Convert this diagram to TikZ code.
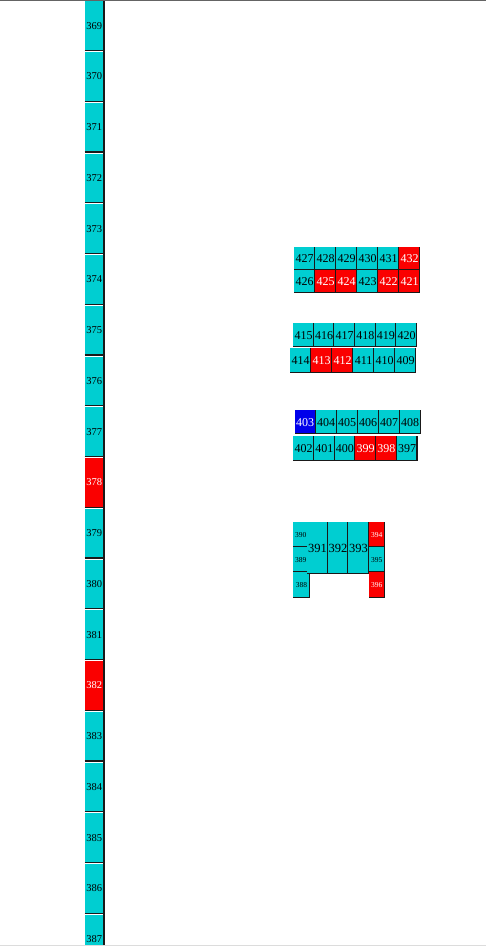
\documentclass[tikz,border=0pt]{standalone}
\usepackage{fontspec}
\setmainfont{Liberation Serif}
\definecolor{cyanc}{RGB}{0,206,209}
\definecolor{redc}{RGB}{250,0,0}
\definecolor{bluec}{RGB}{0,0,235}
\definecolor{topgray}{RGB}{100,100,100}
\definecolor{botgray}{RGB}{220,220,220}
\tikzset{
  cellbase/.style={fill=cyanc, text=black, inner sep=0pt, anchor=north west,
    font=\fontsize{12}{12}\selectfont},
  hot/.style={fill=redc, text=white},
  sel/.style={fill=bluec, text=white},
  tiny/.style={font=\fontsize{7.5}{7.5}\selectfont},
  big/.style={font=\fontsize{12.5}{12.5}\selectfont},
  colcell/.style={fill=cyanc, text=black, inner sep=0pt, anchor=north west,
    font=\fontsize{10.5}{10.5}\selectfont, minimum width=19pt, minimum height=50.75pt},
  shadowline/.style={line width=1.3pt, black!90},
  sepline/.style={line width=1.3pt, black!90},
  hiline/.style={line width=0.9pt, white}
}
\newcommand\mkcell[6]{%
  \node[cellbase,#6,minimum width=#4pt,minimum height=#5pt] (c#1) at (#2,#3) {#1};
  \draw[shadowline] ([xshift=-0.65pt]c#1.north east) -- ([xshift=-0.65pt,yshift=0.65pt]c#1.south east) -- ([yshift=0.65pt]c#1.south west);
}
\begin{document}
\begin{tikzpicture}[x=1pt,y=-1pt]
\useasboundingbox (0,0) rectangle (486,948);
\fill[white] (0,0) rectangle (486,948);
% left column
\begin{scope}
\clip (0,0) rectangle (486,945);
\foreach \k in {0,...,18}{
  \pgfmathtruncatemacro{\lab}{369+\k}
  \pgfmathsetmacro{\yy}{\k*50.75}
  \ifnum\lab=378 \def\st{hot}\else\ifnum\lab=382 \def\st{hot}\else\def\st{}\fi\fi
  \node[colcell,\st] (c\lab) at (84.5,\yy) {\lab};
}
\foreach \k in {369,...,386}{
  \draw[sepline] ([yshift=0.65pt]c\k.south west) -- ([yshift=0.65pt]c\k.south east);
  \draw[hiline] ([yshift=-0.45pt]c\k.south west) -- ([yshift=-0.45pt]c\k.south east);
}
\coordinate (coltop) at (104,0);
\coordinate (colbot) at (104,945);
\draw[line width=1.8pt, black!90] (coltop) -- (colbot);
\end{scope}
\coordinate (tl) at (0,0.6);
\coordinate (tr) at (486,0.6);
\draw[line width=1.3pt, topgray] (tl) -- (tr);
\coordinate (bl) at (0,945.5);
\coordinate (br) at (486,945.5);
\draw[line width=1pt, botgray] (bl) -- (br);
% block 1
\mkcell{427}{294}{247}{21}{23}{}
\mkcell{428}{315}{247}{21}{23}{}
\mkcell{429}{336}{247}{21}{23}{}
\mkcell{430}{357}{247}{21}{23}{}
\mkcell{431}{378}{247}{21}{23}{}
\mkcell{432}{399}{247}{21}{23}{hot}
\mkcell{426}{294}{270}{21}{23}{}
\mkcell{425}{315}{270}{21}{23}{hot}
\mkcell{424}{336}{270}{21}{23}{hot}
\mkcell{423}{357}{270}{21}{23}{}
\mkcell{422}{378}{270}{21}{23}{hot}
\mkcell{421}{399}{270}{21}{23}{hot}
% block 2
\mkcell{415}{293}{323}{20.6}{24}{}
\mkcell{416}{313.6}{323}{20.6}{24}{}
\mkcell{417}{334.2}{323}{20.6}{24}{}
\mkcell{418}{354.8}{323}{20.6}{24}{}
\mkcell{419}{375.4}{323}{20.6}{24}{}
\mkcell{420}{396}{323}{20.6}{24}{}
\mkcell{414}{290}{348}{21}{25}{}
\mkcell{413}{311}{348}{21}{25}{hot}
\mkcell{412}{332}{348}{21}{25}{hot}
\mkcell{411}{353}{348}{21}{25}{}
\mkcell{410}{374}{348}{21}{25}{}
\mkcell{409}{395}{348}{21}{25}{}
% block 3
\mkcell{403}{294.5}{410}{21}{24}{sel}
\mkcell{404}{315.5}{410}{21}{24}{}
\mkcell{405}{336.5}{410}{21}{24}{}
\mkcell{406}{357.5}{410}{21}{24}{}
\mkcell{407}{378.5}{410}{21}{24}{}
\mkcell{408}{399.5}{410}{21}{24}{}
\mkcell{402}{293}{436}{20.7}{24.5}{}
\mkcell{401}{313.7}{436}{20.7}{24.5}{}
\mkcell{400}{334.4}{436}{20.7}{24.5}{}
\mkcell{399}{355.1}{436}{20.7}{24.5}{hot}
\mkcell{398}{375.8}{436}{20.7}{24.5}{hot}
\mkcell{397}{396.5}{436}{20.7}{24.5}{}
% block 4
\mkcell{390}{293}{522}{15}{25}{tiny}
\mkcell{389}{293}{547}{15}{25}{tiny}
\mkcell{388}{293}{572}{16.5}{26}{tiny}
\mkcell{391}{307}{522}{20.5}{51.5}{big}
\mkcell{392}{327.5}{522}{20.5}{51.5}{big}
\mkcell{393}{348}{522}{20.5}{51.5}{big}
\mkcell{394}{368.5}{522}{16}{25}{tiny,hot}
\mkcell{395}{368.5}{547}{16}{25}{tiny}
\mkcell{396}{368.5}{572}{16}{26}{tiny,hot}
\end{tikzpicture}
\end{document}
